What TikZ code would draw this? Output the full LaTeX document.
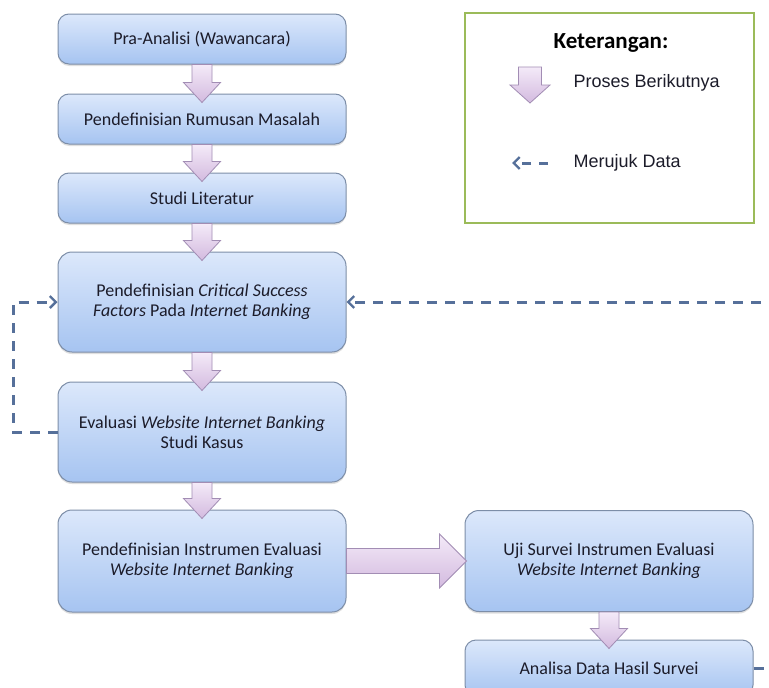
\documentclass[tikz,border=0pt]{standalone}
\usepackage{fontspec}
\setmainfont{Carlito}
\newfontfamily\legfont{Liberation Sans}
\usetikzlibrary{calc,shadows,arrows.meta}
\definecolor{boxtop}{HTML}{DCE8FB}
\definecolor{boxbot}{HTML}{A6C4F1}
\definecolor{boxline}{HTML}{7D8EA8}
\definecolor{arrtop}{HTML}{F4EAF8}
\definecolor{arrbot}{HTML}{D3BADF}
\definecolor{arrline}{HTML}{A28DB4}
\definecolor{dashcol}{HTML}{56709A}
\definecolor{leggreen}{HTML}{9BBB59}
\definecolor{txt}{HTML}{1C1C2A}
\tikzset{
  procbox/.style={draw=boxline, line width=1pt, rounded corners=11pt,
    top color=boxtop, bottom color=boxbot, minimum width=288pt,
    align=center, text=txt, font=\fontsize{18}{20}\selectfont,
    drop shadow={opacity=0.25, shadow xshift=0pt, shadow yshift=-2pt}},
  bigbox/.style={procbox, rounded corners=14pt},
  blockarrow/.style={draw=arrline, line width=0.8pt, top color=arrtop, bottom color=arrbot, line join=miter},
  refline/.style={draw=dashcol, line width=3pt, dash pattern=on 10pt off 8pt},
  reftip/.style={-{Straight Barb[length=6pt,width=12pt,line width=2.4pt]}},
  legtext/.style={anchor=west, text=txt, font=\legfont\fontsize{18}{20}\selectfont}
}
\newcommand\vblock[2]{%
  \path[blockarrow] let \p1=(#1), \p2=(#2) in
   (\x1-10pt,\y1) -- (\x1-10pt,\y2+20pt) -- (\x1-18.5pt,\y2+20pt) -- (\x1,\y2)
   -- (\x1+18.5pt,\y2+20pt) -- (\x1+10pt,\y2+20pt) -- (\x1+10pt,\y1) -- cycle;
}
\newcommand\hblock[2]{%
  \path[blockarrow] let \p1=(#1), \p2=(#2) in
   (\x1,\y1+12.5pt) -- (\x2-27pt,\y1+12.5pt) -- (\x2-27pt,\y1+27pt) -- (\x2,\y1)
   -- (\x2-27pt,\y1-27pt) -- (\x2-27pt,\y1-12.5pt) -- (\x1,\y1-12.5pt) -- cycle;
}
\begin{document}
\begin{tikzpicture}[x=1pt,y=-1pt]
\useasboundingbox (0,0) rectangle (769,688);
\clip (0,0) rectangle (769,688);
\fill[white] (0,0) rectangle (769,688);

% process boxes
\node[procbox, minimum height=50pt]  (b1) at (202,39)  {Pra-Analisi (Wawancara)};
\node[procbox, minimum height=50pt]  (b2) at (202,119) {Pendefinisian Rumusan Masalah};
\node[procbox, minimum height=50pt]  (b3) at (202,198) {Studi Literatur};
\node[bigbox, minimum height=100pt] (b4) at (202,302) {Pendefinisian \textit{Critical Success}\\\textit{Factors} Pada \textit{Internet Banking}};
\node[bigbox, minimum height=100pt] (b5) at (202,432) {Evaluasi \textit{Website Internet Banking}\\Studi Kasus};
\node[bigbox, minimum height=102pt] (b6) at (202,561) {Pendefinisian Instrumen Evaluasi\\\textit{Website Internet Banking}};
\node[bigbox, minimum height=101pt] (b7) at (609,561) {Uji Survei Instrumen Evaluasi\\\textit{Website Internet Banking}};
\node[procbox, minimum height=56pt]  (b8) at (609,668) {Analisa Data Hasil Survei};

% block arrows (next process)
\vblock{b1.south}{$(b2.north)+(0,9)$}
\vblock{b2.south}{$(b3.north)+(0,9)$}
\vblock{b3.south}{$(b4.north)+(0,9)$}
\vblock{b4.south}{$(b5.north)+(0,9)$}
\vblock{b5.south}{$(b6.north)+(0,9)$}
\vblock{b7.south}{$(b8.north)+(0,9)$}
\hblock{b6.east}{$(b7.west)+(2,0)$}

% reference (dashed) connectors
\draw[refline, reftip] (b5.west) -- (13,432) |- (b4.west);
\draw[refline, reftip] (b8.east) -- (790,668) |- (b4.east);

% legend
\node[draw=leggreen, line width=2pt, fill=white, minimum width=289pt, minimum height=210pt, inner sep=0pt] (leg) at (609.5,118) {};
\node[font=\bfseries\fontsize{23}{25}\selectfont, text=black] (legtitle) at (611,43) {Keterangan:};
\coordinate (la1) at (530,67);
\coordinate (la2) at (530,103);
\path[blockarrow] let \p1=(la1), \p2=(la2) in
   (\x1-11.5pt,\y1) -- (\x1-11.5pt,\y2+18pt) -- (\x1-20pt,\y2+18pt) -- (\x2,\y2)
   -- (\x1+20pt,\y2+18pt) -- (\x1+11.5pt,\y2+18pt) -- (\x1+11.5pt,\y1) -- cycle;
\node[legtext] (leg1) at (570,83) {Proses Berikutnya};
\coordinate (ld1) at (548,163);
\coordinate (ld2) at (512,163);
\draw[refline, reftip, dash pattern=on 9pt off 8pt] (ld1) -- (ld2);
\node[legtext] (leg2) at (570,163) {Merujuk Data};
\end{tikzpicture}
\end{document}
